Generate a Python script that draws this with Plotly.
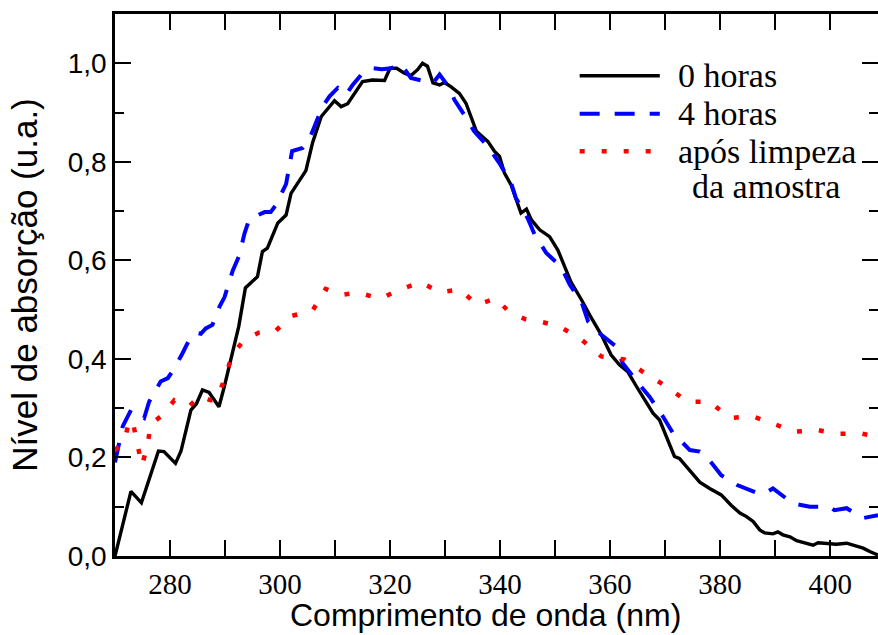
import plotly.graph_objects as go

# Absorption spectra: wavelength (nm) vs. normalised absorption (a.u.)
wl_0h = [270.0, 272.9, 274.8, 276.2, 277.9, 278.9, 281.0, 282.0, 283.8, 284.8, 285.9, 287.1,
         288.9, 289.9, 291.4, 292.5, 293.7, 295.9, 296.8, 297.7, 299.6, 301.1, 302.0, 303.5,
         304.7, 305.9, 307.5, 309.9, 311.1, 312.3, 313.8, 315.0, 316.8, 319.0, 320.0, 321.2,
         322.6, 323.8, 325.0, 325.9, 326.8, 327.8, 329.0, 329.9, 331.1, 332.6, 333.8, 334.7,
         335.7, 337.8, 339.0, 339.9, 340.8, 342.0, 342.9, 343.8, 344.8, 345.7, 347.2, 349.0,
         350.5, 352.0, 352.9, 355.0, 356.3, 358.4, 360.2, 361.7, 363.2, 364.8, 366.6, 367.8,
         369.0, 370.5, 371.7, 372.6, 373.9, 375.4, 376.3, 378.1, 380.2, 382.0, 383.6, 384.8,
         386.0, 387.2, 388.1, 389.6, 390.5, 391.4, 392.7, 393.9, 395.4, 396.9, 397.8, 399.3,
         401.1, 403.0, 404.5, 406.0, 407.2, 408.7]
abs_0h = [0.000, 0.131, 0.108, 0.154, 0.213, 0.212, 0.188, 0.213, 0.296, 0.309, 0.337, 0.332,
          0.303, 0.345, 0.412, 0.466, 0.544, 0.567, 0.618, 0.625, 0.676, 0.692, 0.736, 0.763,
          0.782, 0.838, 0.892, 0.924, 0.912, 0.918, 0.943, 0.963, 0.966, 0.965, 0.990, 0.990,
          0.980, 0.975, 0.987, 1.000, 0.994, 0.960, 0.956, 0.961, 0.952, 0.939, 0.919, 0.892,
          0.862, 0.841, 0.821, 0.811, 0.777, 0.753, 0.723, 0.696, 0.704, 0.682, 0.662, 0.648,
          0.621, 0.583, 0.556, 0.516, 0.489, 0.449, 0.408, 0.388, 0.374, 0.344, 0.310, 0.290,
          0.276, 0.236, 0.202, 0.198, 0.181, 0.164, 0.150, 0.137, 0.124, 0.103, 0.087, 0.080,
          0.070, 0.053, 0.047, 0.045, 0.049, 0.043, 0.039, 0.031, 0.026, 0.022, 0.027, 0.026,
          0.024, 0.026, 0.021, 0.016, 0.009, 0.002]

wl_4h = [270.0, 270.6, 271.4, 272.9, 275.3, 276.2, 278.3, 279.6, 280.8, 282.3, 283.5, 284.7,
         285.6, 286.5, 287.7, 289.0, 289.9, 291.4, 292.6, 293.5, 294.4, 297.2, 298.3, 299.3,
         301.1, 302.2, 304.1, 305.3, 306.5, 307.7, 309.0, 310.5, 312.0, 313.2, 315.0, 316.8,
         318.5, 320.2, 322.0, 323.8, 327.8, 329.0, 330.8, 331.7, 333.5, 335.3, 337.8, 339.9,
         342.0, 342.9, 345.0, 346.3, 348.4, 351.1, 352.7, 354.8, 356.0, 358.4, 361.1, 362.3,
         365.1, 367.2, 369.6, 371.4, 374.5, 376.3, 377.5, 380.2, 383.1, 386.9, 388.1, 389.6,
         393.2, 396.3, 399.9, 400.8, 403.0, 406.0, 408.7]
abs_4h = [0.190, 0.222, 0.263, 0.296, 0.280, 0.313, 0.354, 0.361, 0.381, 0.412, 0.439, 0.453,
          0.451, 0.462, 0.469, 0.506, 0.525, 0.579, 0.610, 0.653, 0.684, 0.698, 0.698, 0.713,
          0.755, 0.822, 0.828, 0.845, 0.879, 0.912, 0.933, 0.950, 0.936, 0.956, 0.980, 0.990,
          0.988, 0.990, 0.998, 0.970, 0.960, 0.977, 0.950, 0.926, 0.895, 0.862, 0.831, 0.797,
          0.757, 0.726, 0.686, 0.652, 0.615, 0.587, 0.550, 0.516, 0.476, 0.449, 0.425, 0.391,
          0.351, 0.323, 0.283, 0.250, 0.215, 0.212, 0.202, 0.164, 0.144, 0.127, 0.127, 0.137,
          0.107, 0.100, 0.100, 0.093, 0.097, 0.077, 0.083]

wl_clean = [270.0, 271.7, 272.6, 273.3, 274.1, 274.9, 275.9, 276.5, 278.3, 280.8, 283.5, 285.4,
            287.4, 288.5, 290.0, 291.3, 293.5, 296.1, 299.0, 302.0, 305.9, 308.3, 311.2, 314.1,
            318.2, 321.6, 325.6, 329.0, 332.6, 335.9, 339.2, 341.5, 344.5, 347.2, 350.8, 354.7,
            358.4, 362.6, 366.2, 370.1, 374.1, 378.1, 381.8, 385.7, 389.6, 393.5, 397.5, 401.4,
            405.4, 408.7]
abs_clean = [0.215, 0.232, 0.276, 0.269, 0.225, 0.184, 0.224, 0.268, 0.283, 0.316, 0.304, 0.325,
             0.316, 0.318, 0.362, 0.408, 0.439, 0.453, 0.455, 0.487, 0.498, 0.542, 0.530, 0.535,
             0.522, 0.540, 0.556, 0.535, 0.541, 0.510, 0.523, 0.497, 0.481, 0.476, 0.466, 0.440,
             0.405, 0.399, 0.372, 0.345, 0.313, 0.313, 0.280, 0.284, 0.269, 0.252, 0.256, 0.248,
             0.249, 0.242]

x_ticks = [280, 300, 320, 340, 360, 380, 400]
y_ticks = [0.0, 0.2, 0.4, 0.6, 0.8, 1.0]

series_names = ["0 horas", "4 horas", "após limpeza", "da amostra"]
x_title = "Comprimento de onda (nm)"
y_title = "Nível de absorção (u.a.)"

SERIF = "Liberation Serif, Times New Roman, serif"
SANS = "Liberation Sans, Arial, sans-serif"

black_line = dict(color="black", width=3.4)
blue_line = dict(color="#0000ff", width=4, dash="20px,15px")
red_line = dict(color="#ff0000", width=4.5, dash="5px,17px")

fig = go.Figure()
fig.add_trace(go.Scatter(x=wl_0h, y=abs_0h, mode="lines", name=series_names[0], line=black_line))
fig.add_trace(go.Scatter(x=wl_4h, y=abs_4h, mode="lines", name=series_names[1], line=blue_line))
fig.add_trace(go.Scatter(x=wl_clean, y=abs_clean, mode="lines",
                         name=series_names[2] + " " + series_names[3], line=red_line))

# hand-placed key: sample strokes plus labels
key_rows = [(0.886, black_line), (0.816, blue_line), (0.747, red_line)]
shapes = [dict(type="line", xref="paper", yref="paper", x0=0.609, x1=0.714,
               y0=yk, y1=yk, line=ln) for yk, ln in key_rows]

key_font = dict(family=SERIF, size=34, color="black")
annotations = [
    dict(xref="paper", yref="paper", x=0.735, y=0.886, text=series_names[0], showarrow=False,
         xanchor="left", yanchor="middle", font=key_font),
    dict(xref="paper", yref="paper", x=0.735, y=0.816, text=series_names[1], showarrow=False,
         xanchor="left", yanchor="middle", font=key_font),
    dict(xref="paper", yref="paper", x=0.735, y=0.747, text=series_names[2], showarrow=False,
         xanchor="left", yanchor="middle", font=key_font),
    dict(xref="paper", yref="paper", x=0.853, y=0.681, text=series_names[3], showarrow=False,
         xanchor="center", yanchor="middle", font=key_font),
    # x-axis title, centred under the labelled span
    dict(xref="paper", yref="paper", x=0.485, y=-0.109, text=x_title, showarrow=False,
         xanchor="center", yanchor="middle", font=dict(family=SANS, size=32, color="black")),
]

fig.update_layout(
    width=878, height=635,
    margin=dict(l=115, r=0, t=14, b=79),
    paper_bgcolor="white", plot_bgcolor="white",
    showlegend=False,
    separators=",.",
    shapes=shapes,
    annotations=annotations,
    xaxis=dict(
        range=[270, 408.7], tickvals=x_ticks, ticks="inside", ticklen=16, tickwidth=2,
        tickcolor="black", showline=True, linecolor="black", linewidth=2.5,
        mirror="allticks", showgrid=False, zeroline=False,
        minor=dict(dtick=10, tick0=270, ticks="inside", ticklen=9, tickwidth=2, tickcolor="black"),
        tickfont=dict(family=SERIF, size=29, color="black"),
    ),
    yaxis=dict(
        range=[0, 1.1], tickvals=y_ticks, tickformat=".1f", ticks="inside", ticklen=16,
        tickwidth=2, tickcolor="black", showline=True, linecolor="black", linewidth=2.5,
        mirror=False, showgrid=False, zeroline=False,
        minor=dict(dtick=0.1, tick0=0, ticks="inside", ticklen=9, tickwidth=2, tickcolor="black"),
        tickfont=dict(family=SANS, size=28, color="black"),
        title=dict(text=y_title, standoff=20,
                   font=dict(family=SANS, size=35, color="black")),
    ),
    yaxis2=dict(
        overlaying="y", side="right", range=[0, 1.1], tickvals=y_ticks, ticks="inside",
        ticklen=16, tickwidth=2, tickcolor="black", showline=False, showticklabels=False,
        showgrid=False, zeroline=False,
        minor=dict(dtick=0.1, tick0=0, ticks="inside", ticklen=9, tickwidth=2, tickcolor="black"),
    ),
)
# an empty trace anchors the right-hand tick set
fig.add_trace(go.Scatter(x=[], y=[], yaxis="y2", showlegend=False, hoverinfo="skip"))

fig.write_html("out.html")
